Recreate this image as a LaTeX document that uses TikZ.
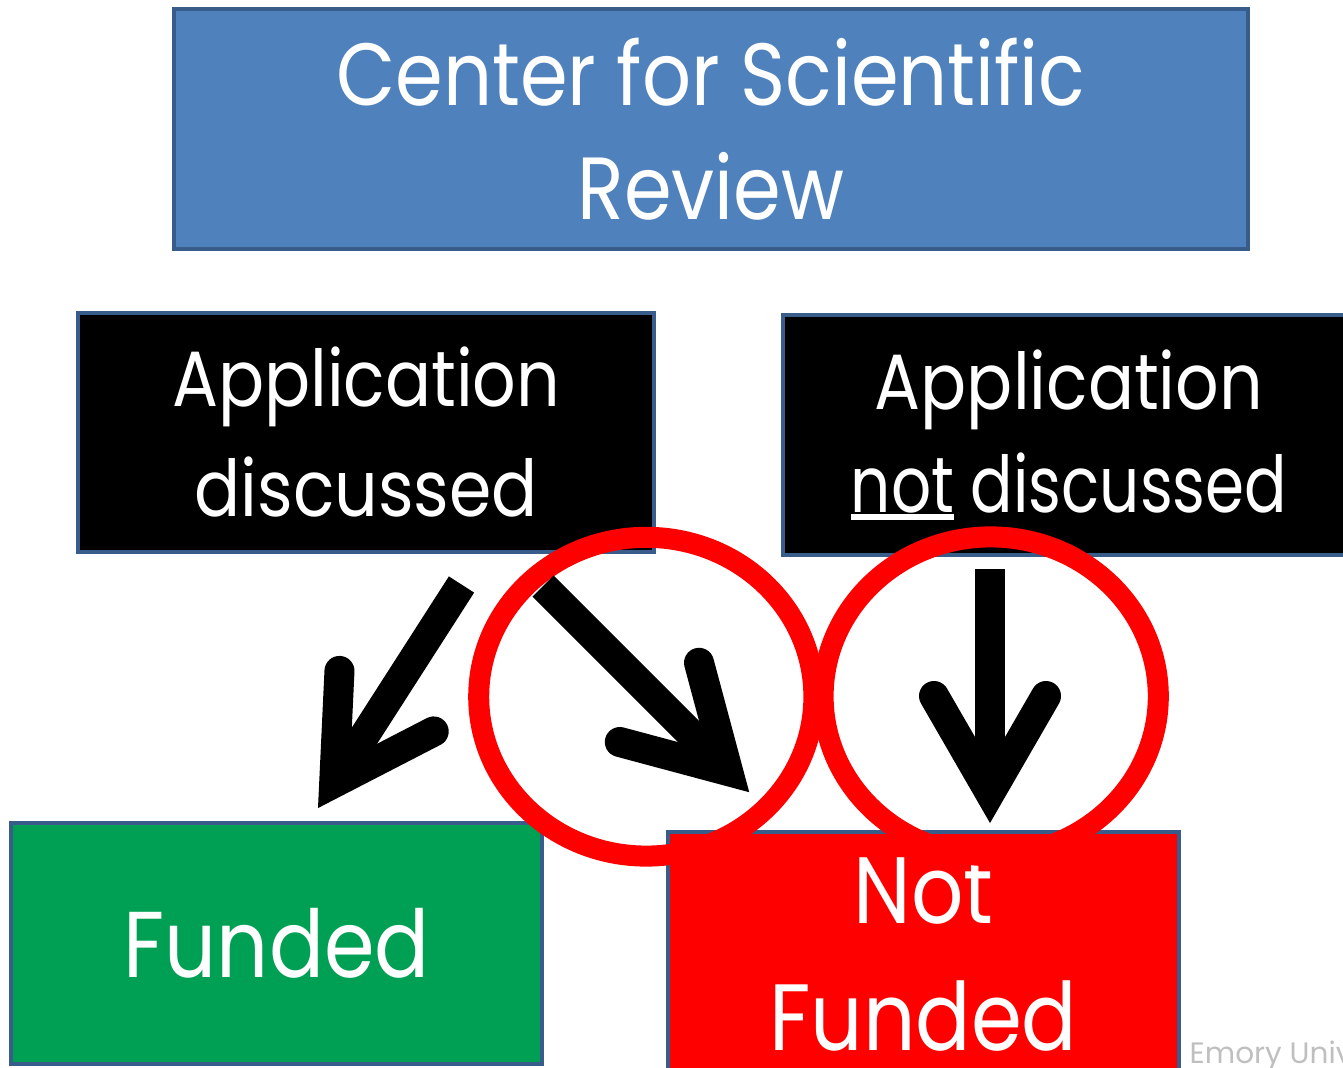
\documentclass[tikz,border=0pt]{standalone}
\usepackage{fontspec}
\setmainfont{Poppins}[FakeStretch=0.87]
\newfontfamily\markfont{Poppins}
\usetikzlibrary{positioning}
\usetikzlibrary{calc}

\definecolor{boxblue}{RGB}{79,129,189}
\definecolor{edgeblue}{RGB}{56,93,138}
\definecolor{fundgreen}{RGB}{0,160,84}
\definecolor{markgray}{RGB}{191,191,191}

% thick underline for the word "not"
\newcommand{\ulthick}[1]{\setbox0\hbox{#1}\rlap{\rule[-2.2pt]{\wd0}{1.6pt}}\box0\relax}

\begin{document}
\begin{tikzpicture}[x=0.01cm,y=-0.01cm,
    panel/.style={draw=edgeblue, line width=0.04cm, text=white, align=center,
                  inner sep=0pt, outer sep=0pt, anchor=north west},
    ring/.style={draw=red, line width=0.21cm},
    shaft/.style={line width=0.3cm, line cap=butt},
    barb/.style={line width=0.3cm, line cap=round, line join=miter}]

        \useasboundingbox (0,0) rectangle (1343,1067);

        % Boxes
        \node[panel, fill=boxblue, minimum width=10.73cm, minimum height=2.395cm,
              font=\fontsize{25.1}{32.4}\selectfont] (csr) at (174,9.5)
              {Center for Scientific\\Review};
        \node[panel, fill=black, minimum width=5.76cm, minimum height=2.385cm,
              font=\fontsize{22.3}{31.3}\selectfont] (disc) at (78,313)
              {Application\\discussed};
        \node[panel, fill=black, minimum width=5.725cm, minimum height=2.4cm,
              font=\fontsize{22.3}{29.2}\selectfont] (nodisc) at (782.5,315)
              {Application\\\scalebox{0.921}[1]{\ulthick{not} discussed}};
        \node[panel, fill=fundgreen, minimum width=5.31cm, minimum height=2.41cm,
              font=\fontsize{26.6}{36}\selectfont] (fund) at (11,823)
              {Funded};
        \node[panel, fill=red, minimum width=5.105cm, minimum height=2.44cm,
              font=\fontsize{26.8}{36.1}\selectfont] (nofund) at (668,832)
              {Not\\Funded};

        % Circles
        \draw[ring] (646.3,696.7) ellipse [x radius=1.675cm, y radius=1.593cm];
        \draw[ring] (990.7,696.3) ellipse [x radius=1.675cm, y radius=1.593cm];

        % Define the coordinates of the arrows
        \coordinate (s1) at (461.5,584.5);
        \coordinate (t1) at (334.2,782.8);
        \coordinate (s2) at (543,586);
        \coordinate (t2) at (728,771);
        \coordinate (s3) at (990,569);
        \coordinate (t3) at (990,793);

        % Draw the arrows
        \draw[shaft] (s1) -- (t1);
        \draw[barb] ($(t1)+(272.7:112)$) -- (t1) -- ($(t1)+(332.7:112)$);
        \draw[shaft] (s2) -- (t2);
        \draw[barb] ($(t2)+(195:112)$) -- (t2) -- ($(t2)+(255:112)$);
        \draw[shaft] (s3) -- (t3);
        \draw[barb] ($(t3)+(240:112)$) -- (t3) -- ($(t3)+(300:112)$);

        \node[anchor=base west, inner sep=0pt, text=markgray,
              font=\markfont\fontsize{8.4}{10}\selectfont] (emory) at (1189,1063)
              {Emory University};
\end{tikzpicture}
\end{document}
